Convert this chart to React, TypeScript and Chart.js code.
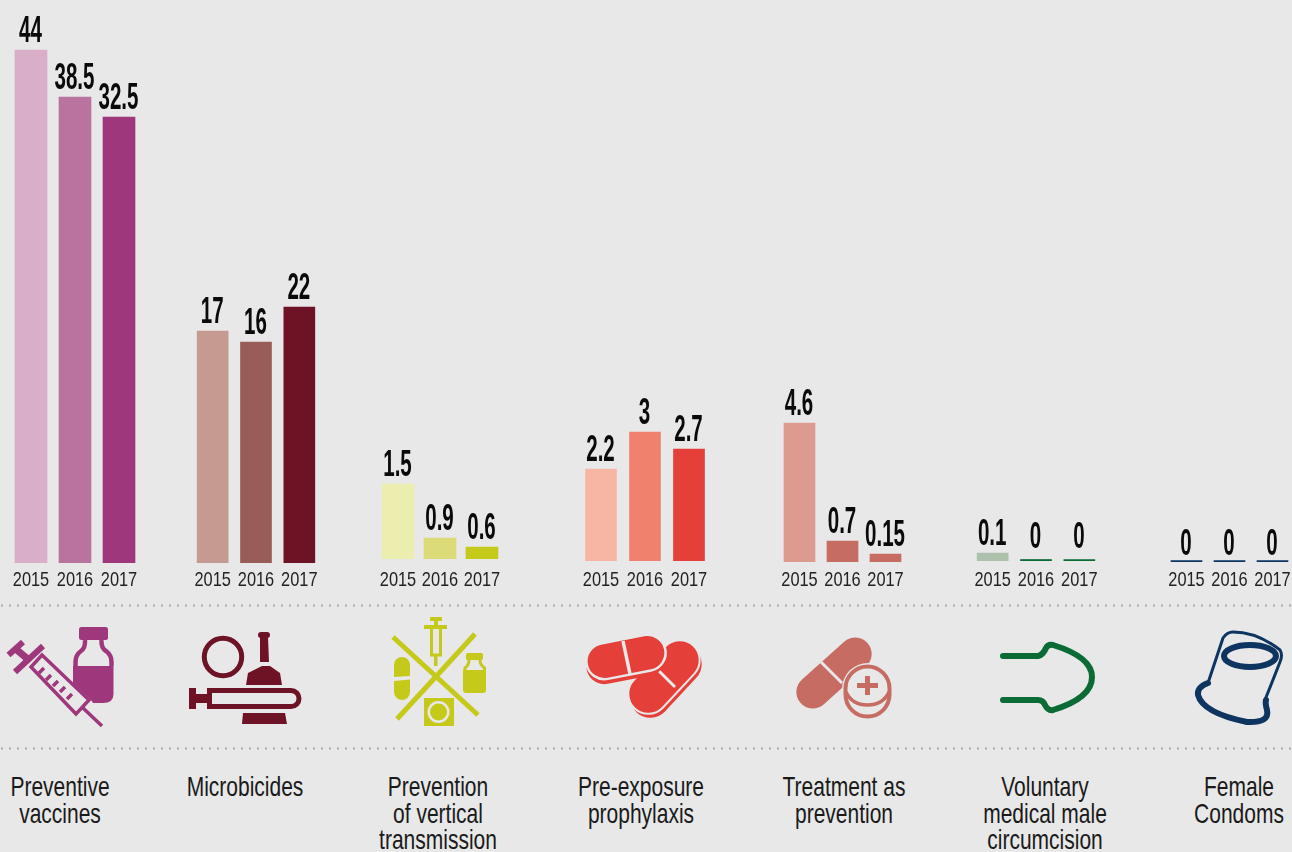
import React, { useEffect, useRef } from "react";
import { Chart, registerables } from "chart.js";

Chart.register(...registerables);

// Years shown under each trio of bars
const years = ["2015", "2016", "2017"];

// Printed values (the source graphic's bars are not drawn to one strict scale)
const vaccinesValues = ["44", "38.5", "32.5"];
const microbicidesValues = ["17", "16", "22"];
const verticalValues = ["1.5", "0.9", "0.6"];
const prepValues = ["2.2", "3", "2.7"];
const treatmentValues = ["4.6", "0.7", "0.15"];
const circumcisionValues = ["0.1", "0", "0"];
const condomValues = ["0", "0", "0"];

// Bar heights
const vaccinesHeights = [513, 466, 446];
const microbicidesHeights = [232, 221, 256];
const verticalHeights = [75, 21, 12];
const prepHeights = [92, 129, 112];
const treatmentHeights = [139, 21, 8];
const circumcisionHeights = [8, 1.5, 1.5];
const condomHeights = [1.5, 1.5, 1.5];

const groupNames = [
  ["Preventive", "vaccines"],
  ["Microbicides"],
  ["Prevention", "of vertical", "transmission"],
  ["Pre-exposure", "prophylaxis"],
  ["Treatment as", "prevention"],
  ["Voluntary", "medical male", "circumcision"],
  ["Female", "Condoms"],
];

const groups = [
  { values: vaccinesValues, heights: vaccinesHeights, colors: ["#d9aec9", "#b8739f", "#9e377c"], left: 8.5, step: 44, base: 563, bar: 32, labelX: 60, gaps: [8.5, 8.5, 8.5] },
  { values: microbicidesValues, heights: microbicidesHeights, colors: ["#c59a91", "#9a5c56", "#6d1325"], left: 190.5, step: 43.5, base: 563, bar: 31, labelX: 245, gaps: [8.5, 8.5, 8.5] },
  { values: verticalValues, heights: verticalHeights, colors: ["#eceeb0", "#dbdb77", "#c5ca1a"], left: 376.5, step: 42, base: 559, bar: 32, labelX: 438, gaps: [8.5, 8.5, 8.5] },
  { values: prepValues, heights: prepHeights, colors: ["#f7b5a3", "#f0816d", "#e43f38"], left: 578.5, step: 44, base: 561, bar: 31, labelX: 641, gaps: [8.5, 8.5, 8.5] },
  { values: treatmentValues, heights: treatmentHeights, colors: ["#dd9b90", "#c76c62", "#c76c62"], left: 778, step: 43, base: 562, bar: 31, labelX: 844, gaps: [8.5, 8.5, 8.5] },
  { values: circumcisionValues, heights: circumcisionHeights, colors: ["#adc0ab", "#0a6b35", "#0a6b35"], left: 970.75, step: 43.5, base: 561, bar: 31, labelX: 1045, gaps: [8.5, 11.5, 11.5] },
  { values: condomValues, heights: condomHeights, colors: ["#0d3560", "#0d3560", "#0d3560"], left: 1165, step: 43, base: 562, bar: 31, labelX: 1239, gaps: [6, 6, 6] },
];

const BG = "#e8e8e8";
const SANS = '"Liberation Sans", Arial, sans-serif';

const condensedLabels = {
  id: "condensedLabels",
  afterDatasetsDraw(chart: any) {
    const { printed, gaps } = chart.options.plugins.condensedLabels;
    const ctx = chart.ctx;
    chart.getDatasetMeta(0).data.forEach((bar: any, i: number) => {
      ctx.save();
      ctx.textAlign = "center";
      ctx.textBaseline = "alphabetic";
      ctx.translate(bar.x - 0.5, bar.y - gaps[i]);
      ctx.scale(0.57, 1);
      ctx.font = `bold 36px ${SANS}`;
      ctx.fillStyle = "#0a0a0a";
      ctx.fillText(printed[i], 0, 0);
      ctx.restore();

      ctx.save();
      ctx.textAlign = "center";
      ctx.textBaseline = "alphabetic";
      ctx.translate(chart.scales.x.getPixelForTick(i), 586);
      ctx.scale(0.78, 1);
      ctx.font = `21px ${SANS}`;
      ctx.fillStyle = "#222222";
      ctx.fillText(chart.scales.x.getLabelForValue(i), 0, 0);
      ctx.restore();
    });
  },
};

function Group({ g }: { g: (typeof groups)[number] }) {
  const ref = useRef<HTMLCanvasElement | null>(null);
  useEffect(() => {
    const chart = new Chart(ref.current as HTMLCanvasElement, {
      type: "bar",
      plugins: [condensedLabels],
      data: {
        labels: years,
        datasets: [{ data: g.heights, backgroundColor: g.colors, barThickness: g.bar, borderWidth: 0 }],
      },
      options: {
        responsive: false,
        animation: false,
        layout: { padding: 0 },
        plugins: { legend: { display: false }, tooltip: { enabled: false }, condensedLabels: { printed: g.values, gaps: g.gaps } } as any,
        scales: {
          x: {
            grid: { display: false },
            border: { display: false },
            afterFit: (s: any) => {
              s.height = 600 - g.base;
              s.paddingLeft = 0;
              s.paddingRight = 0;
            },
            ticks: { display: false },
          },
          y: {
            display: false,
            min: 0,
            max: g.base,
          },
        },
      },
    });
    return () => chart.destroy();
  }, [g]);
  return (
    <canvas
      ref={ref}
      width={g.step * 3}
      height={600}
      style={{ position: "absolute", left: g.left, top: 0, width: g.step * 3, height: 600 }}
    />
  );
}

const MAGENTA = "#9e377c";
const MAROON = "#6d1325";
const LIME = "#c5ca1a";
const RED = "#e43f38";
const SALMON = "#c76c62";
const GREEN = "#0a6b35";
const NAVY = "#0d3560";

function Icons() {
  return (
    <svg width={1292} height={852} style={{ position: "absolute", left: 0, top: 0 }}>
      <line x1={1} y1={605.5} x2={1292} y2={605.5} stroke="#a8a8a8" strokeWidth={2} strokeDasharray="2 6" />
      <line x1={1} y1={748.5} x2={1292} y2={748.5} stroke="#a8a8a8" strokeWidth={2} strokeDasharray="2 6" />

      {/* Syringe and vial */}
      <g stroke={MAGENTA} fill="none">
        <path d="M8.5 655 L23 642" strokeWidth={6} />
        <path d="M15 672 L43 646" strokeWidth={6} />
        <path d="M17 650 L30 661" strokeWidth={7} />
        <path d="M31 667 L42 655 L89 700 L76 714 Z" strokeWidth={3.5} />
        <path d="M83 708 L102 726" strokeWidth={3.5} />
        <path d="M44 668 L39 673 M51 675 L46 680 M58 681 L53 686 M65 687 L60 692 M72 694 L67 699" strokeWidth={3.5} />
      </g>
      <rect x={79} y={627} width={29} height={13} rx={2.5} fill={MAGENTA} />
      <path d="M75.5 666 V662 Q75.5 655 81 651 Q85.5 648 85 640 M101.5 640 Q101 648 106 651 Q111.5 655 111.5 662 V666" stroke={MAGENTA} strokeWidth={4.5} fill="none" />
      <path d="M73 666 H113.5 V694 Q113.5 703 103 703 H93 L91 700 L73 683 Z" fill={MAGENTA} />

      {/* Microbicides */}
      <circle cx={223} cy={657} r={18.7} fill="none" stroke={MAROON} strokeWidth={5} />
      <rect x={258} y={632} width={12} height={6} rx={3} fill={MAROON} />
      <path d="M260 637 H268 L269 662 H260 Z" fill={MAROON} />
      <path d="M246 685 L248 673 L262 666 L270 666 L280 673 L282 685 Z" fill={MAROON} />
      <path d="M242 724 L243 713 L285 713 L287 724 Z" fill={MAROON} />
      <rect x={189} y={688} width={7} height={21} fill={MAROON} />
      <rect x={196} y={694} width={12} height={9} fill={MAROON} />
      <path d="M209.5 690.5 H291 A8 8 0 0 1 291 706.5 H209.5 Z" fill="none" stroke={MAROON} strokeWidth={5} />

      {/* Prevention of vertical transmission */}
      <g stroke={LIME} strokeWidth={5} fill="none">
        <path d="M393 637 L478 715" />
        <path d="M475 634 L397 719" />
      </g>
      <rect x={430} y={617} width={12} height={4} fill={LIME} />
      <rect x={434} y={621} width={4} height={4} fill={LIME} />
      <rect x={424} y={625} width={23} height={4} fill={LIME} />
      <path d="M431.5 629 V655 H440.5 V629" stroke={LIME} strokeWidth={3} fill="none" />
      <rect x={434} y={656} width={3.5} height={10} fill={LIME} />
      <path d="M394 677 V665 A8 8 0 0 1 410 665 V676 Z" fill={LIME} />
      <path d="M394 681 L410 679.5 V692 A8 8 0 0 1 394 692 Z" fill={LIME} />
      <rect x={466} y={653} width={17} height={7} rx={1.5} fill={LIME} />
      <path d="M465 670 V668 Q469 665 469 660 M480 660 Q480 665 484.5 668 V670" stroke={LIME} strokeWidth={3} fill="none" />
      <path d="M463 670 H486 V690 Q486 693 483 693 H466 Q463 693 463 690 Z" fill={LIME} />
      <rect x={424} y={698} width={30} height={28} fill={LIME} />
      <circle cx={438.5} cy={712} r={11} fill={BG} />
      <circle cx={438.5} cy={712} r={8.5} fill={LIME} />

      {/* Pre-exposure prophylaxis */}
      <rect x={-43} y={-20} width={86} height={40} rx={20} fill={RED} transform="translate(666 681) rotate(-47)" />
      <rect x={-43} y={-20} width={86} height={40} rx={20} fill={RED} stroke={BG} strokeWidth={2} transform="translate(664 677) rotate(-47)" />
      <path d="M658 670 L675 687" stroke={BG} strokeWidth={3} />
      <rect x={-40} y={-18} width={80} height={36} rx={18} fill={RED} transform="translate(626 662) rotate(-11)" />
      <rect x={-40} y={-18} width={80} height={36} rx={18} fill={RED} stroke={BG} strokeWidth={2.5} transform="translate(626 657) rotate(-11)" />
      <path d="M623 641 L630 674" stroke={BG} strokeWidth={3.5} />

      {/* Treatment as prevention */}
      <rect x={-45} y={-16.5} width={90} height={33} rx={16.5} fill={SALMON} transform="translate(834 673) rotate(-42)" />
      <path d="M821 662 L842 683" stroke={BG} strokeWidth={3} />
      <rect x={842} y={663} width={52} height={56} rx={26} fill={BG} />
      <rect x={845.5} y={666.5} width={44} height={50} rx={22} fill="none" stroke={SALMON} strokeWidth={4} />
      <path d="M846 692 Q852 705 867.5 705 Q883 705 889 692" fill="none" stroke={SALMON} strokeWidth={3.5} />
      <rect x={857} y={683} width={21} height={5} fill={SALMON} />
      <rect x={865} y={676} width={5} height={19} fill={SALMON} />

      {/* Voluntary medical male circumcision */}
      <path
        d="M1003 656 L1038 656 Q1043 655 1046 648 Q1048 644 1053 645 Q1092 657 1092 677 Q1092 698 1053 710 Q1048 711 1045 705 Q1043 700 1038 700 L1003 700"
        fill="none" stroke={GREEN} strokeWidth={6} strokeLinecap="round"
      />

      {/* Female condoms */}
      <path
        d="M1208 683 L1223 638 Q1227 632 1233 632 Q1257 632 1280 650 Q1283 655 1280 662 L1265 700"
        fill="none" stroke={NAVY} strokeWidth={3}
      />
      <ellipse cx={1250} cy={656} rx={26} ry={11} fill="none" stroke={NAVY} strokeWidth={6} />
      <path
        d="M1208 683 Q1197 687 1198 695 Q1203 713 1247 722 Q1270 723 1267 710 Q1265 703 1266 700"
        fill="none" stroke={NAVY} strokeWidth={6} strokeLinecap="round"
      />
    </svg>
  );
}

export default function App() {
  useEffect(() => {
    document.body.style.margin = "0";
    document.body.style.background = BG;
  }, []);
  return (
    <div style={{ position: "absolute", left: 0, top: 0, width: 1292, height: 852, overflow: "hidden", background: BG }}>
      <Icons />
      {groups.map((g, i) => (
        <Group key={i} g={g} />
      ))}
      {groups.map((g, i) => (
        <div
          key={i}
          style={{
            position: "absolute",
            left: g.labelX - 100,
            top: 774,
            width: 200,
            textAlign: "center",
            fontFamily: SANS,
            fontSize: 28,
            lineHeight: "26.5px",
            color: "#1a1a1a",
            transform: "scaleX(0.75)",
          }}
        >
          {groupNames[i].map((line, j) => (
            <div key={j}>{line}</div>
          ))}
        </div>
      ))}
    </div>
  );
}
